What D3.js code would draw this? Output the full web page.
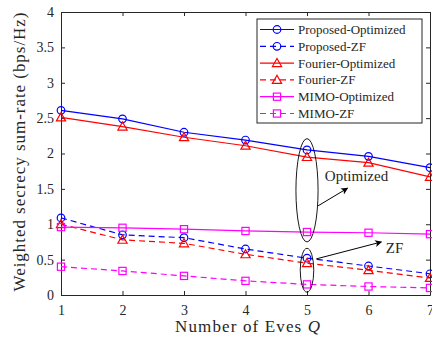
<!DOCTYPE html>
<html>
<head>
<meta charset="utf-8">
<script src="https://cdn.jsdelivr.net/npm/d3@7"></script>
<style>
  body { margin: 0; background: #fff; }
  svg { display: block; }
  text { font-family: "Liberation Serif", "Times New Roman", serif; fill: #262626; }
</style>
</head>
<body>
<div id="chart"></div>
<script>
// number of eavesdroppers Q
const eves = [1, 2, 3, 4, 5, 6, 7];

// weighted secrecy sum-rate (bps/Hz)
const proposedOpt = [2.61, 2.49, 2.30, 2.19, 2.05, 1.96, 1.80];
const proposedZF  = [1.09, 0.85, 0.81, 0.65, 0.52, 0.41, 0.30];
const fourierOpt  = [2.51, 2.38, 2.23, 2.11, 1.95, 1.87, 1.67];
const fourierZF   = [1.00, 0.78, 0.73, 0.575, 0.45, 0.35, 0.24];
const mimoOpt     = [0.96, 0.95, 0.93, 0.905, 0.89, 0.88, 0.86];
const mimoZF      = [0.40, 0.34, 0.27, 0.20, 0.15, 0.12, 0.10];

const seriesNames = ["Proposed-Optimized", "Proposed-ZF", "Fourier-Optimized",
                     "Fourier-ZF", "MIMO-Optimized", "MIMO-ZF"];
const yTicks = [0, 0.5, 1, 1.5, 2, 2.5, 3, 3.5, 4];

const series = [
    {name: seriesNames[0], values: proposedOpt, color: "#0000ff", dashed: false, marker: "circle"},
    {name: seriesNames[1], values: proposedZF,  color: "#0000ff", dashed: true,  marker: "circle"},
    {name: seriesNames[2], values: fourierOpt,  color: "#ff0000", dashed: false, marker: "triangle"},
    {name: seriesNames[3], values: fourierZF,   color: "#ff0000", dashed: true,  marker: "triangle"},
    {name: seriesNames[4], values: mimoOpt,     color: "#ff00ff", dashed: false, marker: "square"},
    {name: seriesNames[5], values: mimoZF,      color: "#ff00ff", dashed: true,  marker: "square"}
];

const width = 432, height = 339;
const margin = {top: 12, right: 2, bottom: 44, left: 61};
const axisColor = "#262626";

const svg = d3.select("#chart")
    .append("svg")
    .attr("width", width)
    .attr("height", height);

const x = d3.scaleLinear()
    .domain([1, 7])
    .range([margin.left, width - margin.right]);

const y = d3.scaleLinear()
    .domain([0, 4])
    .range([height - margin.bottom, margin.top]);

// axes, MATLAB style box with inward ticks
const styleAxis = g => {
    g.select(".domain").attr("stroke", axisColor).attr("stroke-width", 1);
    g.selectAll(".tick line").attr("stroke", axisColor);
    g.selectAll(".tick text").style("font-size", "14px").attr("fill", axisColor);
};

svg.append("g")
    .attr("transform", `translate(0,${y(0)})`)
    .call(d3.axisBottom(x).tickValues(eves).tickFormat(d3.format("d"))
        .tickSizeInner(-4).tickSizeOuter(0).tickPadding(10))
    .call(styleAxis);

svg.append("g")
    .attr("transform", `translate(0,${y(4)})`)
    .call(d3.axisTop(x).tickValues(eves).tickFormat("")
        .tickSizeInner(-4).tickSizeOuter(0))
    .call(styleAxis);

svg.append("g")
    .attr("transform", `translate(${x(1)},0)`)
    .call(d3.axisLeft(y).tickValues(yTicks).tickFormat(d => String(d))
        .tickSizeInner(-4).tickSizeOuter(0).tickPadding(7))
    .call(styleAxis);

svg.append("g")
    .attr("transform", `translate(${x(7)},0)`)
    .call(d3.axisRight(y).tickValues(yTicks).tickFormat("")
        .tickSizeInner(-4).tickSizeOuter(0))
    .call(styleAxis);

// markers
function drawMarker(g, type, color, cx, cy) {
    if (type === "circle") {
        g.append("circle").attr("cx", cx).attr("cy", cy).attr("r", 3.8)
            .attr("fill", "none").attr("stroke", color).attr("stroke-width", 1.2);
    } else if (type === "triangle") {
        const s = 4.6;
        g.append("path")
            .attr("d", `M${cx},${cy - s}L${cx + s},${cy + s * 0.75}L${cx - s},${cy + s * 0.75}Z`)
            .attr("fill", "none").attr("stroke", color).attr("stroke-width", 1.2);
    } else {
        const s = 3.6;
        g.append("rect").attr("x", cx - s).attr("y", cy - s)
            .attr("width", 2 * s).attr("height", 2 * s)
            .attr("fill", "none").attr("stroke", color).attr("stroke-width", 1.2);
    }
}

const line = d3.line()
    .x((d, i) => x(eves[i]))
    .y(d => y(d));

series.forEach(s => {
    const g = svg.append("g");
    g.append("path")
        .datum(s.values)
        .attr("d", line)
        .attr("fill", "none")
        .attr("stroke", s.color)
        .attr("stroke-width", 1.2)
        .attr("stroke-dasharray", s.dashed ? "6,4" : null);
    s.values.forEach((v, i) => drawMarker(g, s.marker, s.color, x(eves[i]), y(v)));
});

// annotations: ellipses and arrows
const defs = svg.append("defs");
defs.append("marker")
    .attr("id", "arrow")
    .attr("viewBox", "0 0 10 10")
    .attr("refX", 9).attr("refY", 5)
    .attr("markerWidth", 9).attr("markerHeight", 7)
    .attr("markerUnits", "userSpaceOnUse")
    .attr("orient", "auto")
    .append("path")
    .attr("d", "M0,0L10,5L0,10L2.5,5Z")
    .attr("fill", "#000");

const ellipses = [
    {cx: 5, cy: 1.48, rx: 0.18, ry: 0.73},
    {cx: 5, cy: 0.35, rx: 0.11, ry: 0.31}
];
ellipses.forEach(e => {
    svg.append("ellipse")
        .attr("cx", x(e.cx)).attr("cy", y(e.cy))
        .attr("rx", x(e.cx + e.rx) - x(e.cx))
        .attr("ry", y(e.cy - e.ry) - y(e.cy))
        .attr("fill", "none").attr("stroke", "#000").attr("stroke-width", 0.9);
});

const arrows = [
    {x1: 5.18, y1: 1.26, x2: 5.66, y2: 1.51},
    {x1: 5.15, y1: 0.51, x2: 6.21, y2: 0.75}
];
arrows.forEach(a => {
    svg.append("line")
        .attr("x1", x(a.x1)).attr("y1", y(a.y1))
        .attr("x2", x(a.x2)).attr("y2", y(a.y2))
        .attr("stroke", "#000").attr("stroke-width", 1)
        .attr("marker-end", "url(#arrow)");
});

const notes = [
    {text: "Optimized", x: 5.29, y: 1.61},
    {text: "ZF", x: 6.28, y: 0.59}
];
notes.forEach(n => {
    svg.append("text")
        .attr("x", x(n.x)).attr("y", y(n.y))
        .style("font-size", "15px")
        .attr("fill", "#000")
        .text(n.text);
});

// legend
const legend = svg.append("g").attr("transform", "translate(257,19)");
legend.append("rect")
    .attr("width", 165).attr("height", 104)
    .attr("fill", "#fff").attr("stroke", axisColor).attr("stroke-width", 1);

series.forEach((s, i) => {
    const ly = 10.5 + i * 16.8;
    legend.append("line")
        .attr("x1", 3).attr("x2", 37)
        .attr("y1", ly).attr("y2", ly)
        .attr("stroke", s.color).attr("stroke-width", 1.2)
        .attr("stroke-dasharray", s.dashed ? "6,4" : null);
    drawMarker(legend, s.marker, s.color, 20, ly);
    legend.append("text")
        .attr("x", 41).attr("y", ly + 4.5)
        .style("font-size", "13px")
        .text(s.name);
});

// axis titles
const xTitle = svg.append("text")
    .attr("x", (x(1) + x(7)) / 2 + 2)
    .attr("y", 332)
    .attr("text-anchor", "middle")
    .style("font-size", "17px")
    .attr("textLength", 145)
    .attr("lengthAdjust", "spacing");
xTitle.append("tspan").text("Number of Eves ");
xTitle.append("tspan").style("font-style", "italic").text("Q");

svg.append("text")
    .attr("transform", "rotate(-90)")
    .attr("x", -152)
    .attr("y", 25)
    .attr("text-anchor", "middle")
    .style("font-size", "17px")
    .attr("textLength", 279)
    .attr("lengthAdjust", "spacing")
    .text("Weighted secrecy sum-rate (bps/Hz)");
</script>
</body>
</html>
